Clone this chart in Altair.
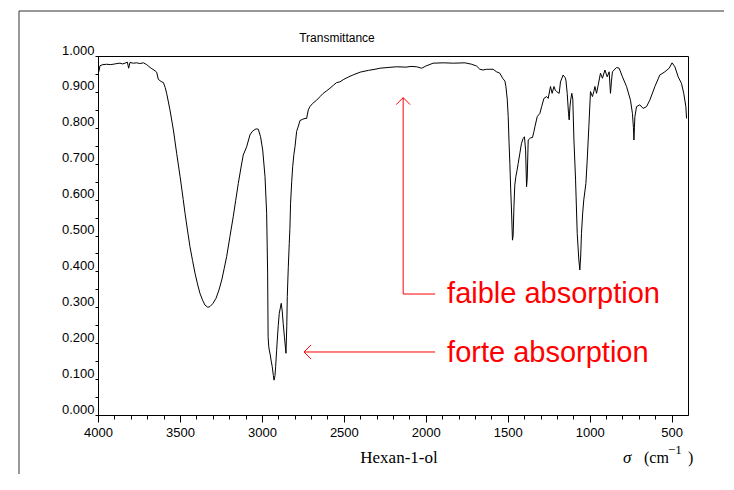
import altair as alt
import pandas as pd

# --- spectrum (wavenumber in cm-1, transmittance) ---
wavenumber = [3995, 3988, 3970, 3947, 3925, 3907, 3885, 3866, 3850, 3835, 3821, 3813, 3805, 3785,
              3764, 3745, 3723, 3703, 3690, 3676, 3652, 3642, 3632, 3615, 3601, 3590, 3581, 3561,
              3540, 3520, 3499, 3480, 3469, 3455, 3439, 3423, 3408, 3393, 3378, 3362, 3347, 3330,
              3317, 3300, 3280, 3262, 3245, 3230, 3215, 3195, 3175, 3160, 3144, 3128, 3114, 3093,
              3073, 3060, 3047, 3035, 3022, 3008, 2995, 2981, 2971, 2965, 2962, 2958, 2955, 2950,
              2943, 2937, 2930, 2926, 2920, 2916, 2910, 2906, 2900, 2894, 2882, 2876, 2870, 2862,
              2853, 2848, 2845, 2839, 2833, 2829, 2825, 2818, 2812, 2805, 2798, 2788, 2775, 2768,
              2750, 2737, 2727, 2717, 2707, 2690, 2666, 2645, 2626, 2605, 2585, 2565, 2544, 2524,
              2500, 2470, 2440, 2400, 2350, 2310, 2280, 2230, 2178, 2120, 2090, 2056, 2025, 2000,
              1955, 1894, 1830, 1761, 1720, 1690, 1670, 1650, 1630, 1609, 1589, 1568, 1548, 1531,
              1517, 1511, 1503, 1497, 1492, 1487, 1482, 1477, 1471, 1467, 1462, 1457, 1450, 1443,
              1436, 1426, 1416, 1406, 1398, 1391, 1385, 1381, 1375, 1360, 1349, 1340, 1334, 1320,
              1304, 1293, 1279, 1263, 1253, 1239, 1229, 1218, 1210, 1202, 1186, 1178, 1162, 1150,
              1145, 1137, 1129, 1125, 1120, 1116, 1109, 1103, 1096, 1086, 1076, 1066, 1060, 1055,
              1050, 1043, 1036, 1023, 1015, 1005, 995, 983, 975, 968, 958, 948, 934, 922,
              907, 893, 881, 873, 867, 861, 836, 820, 800, 775, 751, 739, 733, 730,
              727, 724, 714, 694, 674, 653, 633, 602, 572, 541, 515, 497, 480, 460,
              440, 426, 413, 409]
transmittance = [0.956, 0.973, 0.976, 0.977, 0.976, 0.977, 0.979, 0.980, 0.978, 0.980, 0.983, 0.966, 0.982, 0.980,
                 0.981, 0.979, 0.981, 0.976, 0.971, 0.966, 0.959, 0.955, 0.935, 0.929, 0.926, 0.912, 0.896, 0.850,
                 0.794, 0.729, 0.664, 0.600, 0.562, 0.518, 0.469, 0.430, 0.395, 0.365, 0.339, 0.320, 0.306, 0.300,
                 0.302, 0.310, 0.325, 0.348, 0.376, 0.408, 0.441, 0.497, 0.552, 0.597, 0.645, 0.688, 0.724, 0.747,
                 0.780, 0.789, 0.794, 0.797, 0.796, 0.775, 0.738, 0.664, 0.562, 0.395, 0.218, 0.190, 0.181, 0.170,
                 0.150, 0.135, 0.110, 0.097, 0.110, 0.135, 0.180, 0.209, 0.250, 0.283, 0.311, 0.290, 0.255, 0.215,
                 0.172, 0.250, 0.330, 0.410, 0.478, 0.520, 0.590, 0.650, 0.692, 0.725, 0.747, 0.790, 0.808, 0.820,
                 0.824, 0.826, 0.826, 0.850, 0.859, 0.868, 0.877, 0.887, 0.896, 0.903, 0.910, 0.918, 0.926, 0.928,
                 0.935, 0.942, 0.948, 0.955, 0.960, 0.963, 0.966, 0.968, 0.970, 0.969, 0.971, 0.970, 0.966, 0.972,
                 0.980, 0.981, 0.980, 0.981, 0.977, 0.972, 0.963, 0.961, 0.963, 0.963, 0.963, 0.956, 0.952, 0.938,
                 0.930, 0.915, 0.880, 0.831, 0.760, 0.701, 0.630, 0.571, 0.487, 0.500, 0.580, 0.640, 0.665, 0.682,
                 0.701, 0.729, 0.757, 0.770, 0.775, 0.738, 0.636, 0.660, 0.766, 0.772, 0.773, 0.790, 0.803, 0.831,
                 0.840, 0.859, 0.882, 0.887, 0.882, 0.915, 0.896, 0.915, 0.905, 0.901, 0.896, 0.928, 0.947, 0.940,
                 0.933, 0.896, 0.840, 0.822, 0.860, 0.877, 0.896, 0.880, 0.766, 0.655, 0.506, 0.432, 0.404, 0.440,
                 0.506, 0.560, 0.599, 0.645, 0.710, 0.803, 0.901, 0.887, 0.900, 0.915, 0.896, 0.919, 0.952, 0.938,
                 0.961, 0.942, 0.956, 0.896, 0.930, 0.956, 0.968, 0.966, 0.942, 0.915, 0.877, 0.840, 0.800, 0.766,
                 0.800, 0.831, 0.859, 0.864, 0.854, 0.859, 0.877, 0.915, 0.947, 0.956, 0.966, 0.981, 0.970, 0.942,
                 0.924, 0.896, 0.859, 0.826]

# axis ticks
x_ticks = list(range(500, 4001, 100))
y_ticks = [round(i * 0.05, 2) for i in range(21)]

# annotation arrows (in data units) and labels
seg_x = [2138, 2138, 2743]
seg_y = [0.884, 0.337, 0.1755]
seg_x2 = [2138, 1943, 1943]
seg_y2 = [0.337, 0.337, 0.1755]
head_x = [2138, 2743]
head_y = [0.884, 0.1755]
head_shape = ["M -1 1 L 0 0 L 1 1", "M 1 -1 L 0 0 L 1 1"]
label_text = ["faible absorption", "forte absorption"]
label_x = [1870, 1870]
label_y = [0.3106, 0.149]

RED = "#ff0000"

df = pd.DataFrame({"sigma": wavenumber, "T": transmittance})
segs = pd.DataFrame({"x": seg_x, "y": seg_y, "x2": seg_x2, "y2": seg_y2})
heads = pd.DataFrame({"x": head_x, "y": head_y, "shape": head_shape})
labels = pd.DataFrame({"x": label_x, "y": label_y, "text": label_text})

xs = alt.Scale(domain=[4000, 400], nice=False, zero=False)
ys = alt.Scale(domain=[0, 1], nice=False, zero=False)

x_axis = alt.Axis(
    values=x_ticks, format="d", title=None, grid=False,
    labelExpr="datum.value % 500 === 0 ? datum.label : ''",
    tickSize=alt.condition("datum.value % 500 === 0", alt.value(7), alt.value(4)),
    labelPadding=4, labelFlush=False, labelOverlap=False,
)
y_axis = alt.Axis(
    values=y_ticks, title=None, grid=False,
    labelExpr="round(datum.value * 20) % 2 === 0 ? format(datum.value, '.3f') : ''",
    tickSize=3, labelPadding=1, labelBaseline="alphabetic", labelOffset=-2,
    labelOverlap=False,
)

spectrum = alt.Chart(df).mark_line(color="black", strokeWidth=1).encode(
    x=alt.X("sigma:Q", scale=xs, axis=x_axis),
    y=alt.Y("T:Q", scale=ys, axis=y_axis),
    order=alt.Order("sigma:Q", sort="descending"),
)

arrows = alt.Chart(segs).mark_rule(color=RED, strokeWidth=1).encode(
    x=alt.X("x:Q", scale=xs, axis=x_axis), y=alt.Y("y:Q", scale=ys, axis=y_axis),
    x2="x2:Q", y2="y2:Q",
)
arrow_heads = alt.Chart(heads).mark_point(color=RED, filled=False, strokeWidth=1, size=196, opacity=1).encode(
    x=alt.X("x:Q", scale=xs, axis=x_axis), y=alt.Y("y:Q", scale=ys, axis=y_axis),
    shape=alt.Shape("shape:N", scale=None),
)
ann = alt.Chart(labels).mark_text(
    color=RED, font="Liberation Sans", fontSize=29, align="left", baseline="alphabetic"
).encode(
    x=alt.X("x:Q", scale=xs, axis=x_axis), y=alt.Y("y:Q", scale=ys, axis=y_axis), text="text:N",
)

one = alt.Data(values=[{}])
# outer frame (its right and bottom edges fall outside the picture)
frame = alt.Chart(one).mark_rect(fill=None, stroke="#333333", strokeWidth=1).encode(
    x=alt.value(-79), x2=alt.value(700), y=alt.value(-45), y2=alt.value(500))


def label(text, x, y, size, font="Liberation Serif", style="normal", align="center", baseline="middle"):
    return alt.Chart(one).mark_text(
        font=font, fontSize=size, fontStyle=style, color="black", align=align, baseline=baseline
    ).encode(x=alt.value(x), y=alt.value(y), text=alt.value(text))


title_txt = label("Transmittance", 239, -18, 12, font="Liberation Sans")
compound_txt = label("Hexan-1-ol", 301, 407, 17, align="center", baseline="alphabetic")
sigma_txt = label("σ", 525, 407, 17, style="italic", align="left", baseline="alphabetic")
unit_txt = label("(cm", 546, 407, 16, align="left", baseline="alphabetic")
exp_txt = label("−1", 570, 398, 13, align="left", baseline="alphabetic")
close_txt = label(")", 590, 407, 16, align="left", baseline="alphabetic")

chart = alt.layer(
    frame, spectrum, arrows, arrow_heads, ann,
    title_txt, compound_txt, sigma_txt, unit_txt, exp_txt, close_txt,
).properties(
    width=590, height=359,
    autosize=alt.AutoSizeParams(type="none"),
    padding={"left": 90, "top": 48, "right": 36, "bottom": 59},
    background="white",
).configure_view(
    stroke="black", strokeWidth=1,
).configure_axis(
    domainColor="black", tickColor="black", labelColor="black",
    labelFont="Liberation Sans", labelFontSize=13, domainWidth=1, tickWidth=1,
)

chart.save("out.html", embed_options={"renderer": "svg", "actions": False})
